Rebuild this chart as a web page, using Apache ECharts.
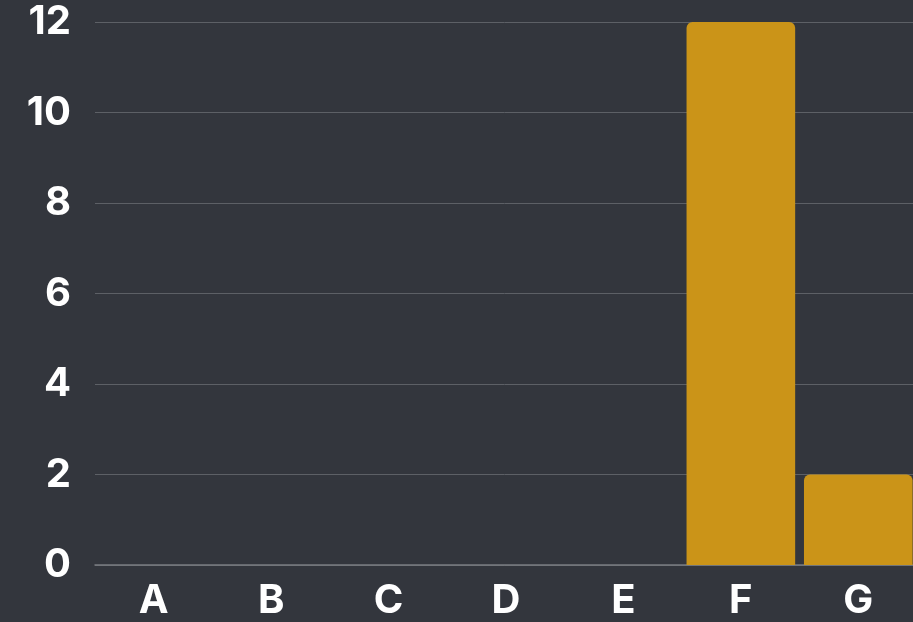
<!DOCTYPE html>
<html>
<head>
<meta charset="utf-8">
<script src="https://cdn.jsdelivr.net/npm/echarts@6/dist/echarts.min.js"></script>
<style>
  html, body { margin: 0; padding: 0; background: #33363d; }
  #chart { width: 913px; height: 622px; }
</style>
</head>
<body>
<div id="chart"></div>
<script>
'use strict';
// single bar series, categories A–G
const categories = ['A', 'B', 'C', 'D', 'E', 'F', 'G'];
const values = [0, 0, 0, 0, 0, 12, 2];
const yTicks = { min: 0, max: 12, interval: 2 };

const FONT = "Inter, 'Noto Sans', sans-serif";
const BAR = '#cb9418';

const ch = echarts.init(document.getElementById('chart'));
ch.setOption({
  backgroundColor: '#33363d',
  animation: false,
  // plot band runs a few px past the right edge, as in the reference
  grid: { left: 95, width: 822, top: 22, bottom: 57, containLabel: false, outerBoundsMode: 'none' },
  xAxis: {
    type: 'category', data: categories,
    axisLine: { show: true, lineStyle: { color: '#7a7c81', width: 1.5 } },
    axisTick: { show: false },
    axisLabel: { color: '#ffffff', fontFamily: FONT, fontWeight: 'bold', fontSize: 40, margin: 16 }
  },
  yAxis: {
    type: 'value', min: yTicks.min, max: yTicks.max, interval: yTicks.interval,
    axisLine: { show: false }, axisTick: { show: false },
    axisLabel: { color: '#ffffff', fontFamily: FONT, fontWeight: 'bold', fontSize: 40, margin: 24 },
    splitLine: { lineStyle: { color: '#5d6066', width: 1 } }
  },
  series: [{
    type: 'bar', data: values, barWidth: '92.5%',
    itemStyle: { color: BAR, borderRadius: [6, 6, 0, 0] }
  }]
});
</script>
</body>
</html>
